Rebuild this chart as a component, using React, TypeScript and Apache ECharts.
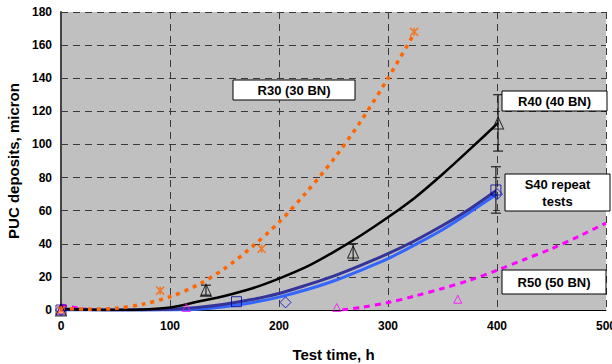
import React, { useEffect, useRef } from "react";
import * as echarts from "echarts";

// ---- Data ----
// Measured points
const r30Time = [0, 91, 184, 324];
const r30Dep = [0, 11.7, 37, 168];

const r40Time = [0, 133, 268, 401];
const r40Dep = [0, 12, 35, 113];
const r40Err = [0, 3, 5, 17];

const s40aTime = [0, 161, 399];
const s40aDep = [0, 5, 72.5];
const s40aErr = [0, 0, 14];

const s40bTime = [0, 206, 400];
const s40bDep = [0, 4.6, 70];

const r50Time = [0, 115, 253, 364];
const r50Dep = [0, 1.5, 1.5, 6.5];

// Trend lines
const r30TrendX = [0, 25, 50, 75, 100, 125, 150, 175, 200, 225, 250, 275, 300, 324];
const r30TrendY = [1, 0.5, 1, 3.5, 8, 15, 25, 38, 53, 71, 91, 114, 140, 167];

const r40TrendX = [0, 25, 50, 75, 100, 125, 150, 175, 200, 225, 250, 275, 300, 325, 350, 375, 401];
const r40TrendY = [0.6, 0.2, 0, 0.3, 1.5, 5, 8.5, 13, 19, 26, 35, 45, 56, 68, 82, 97, 113];

const s40aTrendX = [0, 25, 50, 75, 100, 125, 150, 175, 200, 225, 250, 275, 300, 325, 350, 375, 399];
const s40aTrendY = [0.5, 0.3, 0, 0, 0.4, 1.5, 3.5, 6.3, 10, 15, 20.5, 27, 34, 42, 51, 61, 72];

const s40bTrendX = [0, 25, 50, 75, 100, 125, 150, 175, 200, 225, 250, 275, 300, 325, 350, 375, 400];
const s40bTrendY = [0, 0, 0, 0, 0, 0.5, 2, 4.4, 7.8, 12.2, 17.5, 24, 31, 39.5, 48.5, 59, 70];

const r50TrendAX = [0, 10, 20, 30];
const r50TrendAY = [3, 1.8, 0.6, 0];
const r50TrendBX = [258, 275, 300, 325, 350, 375, 400, 425, 450, 475, 500];
const r50TrendBY = [0, 1.5, 4.5, 8.5, 13, 18, 24, 30.5, 37, 44.5, 52.5];

const xTickMin = 0, xTickMax = 500, xTickStep = 100;
const yTickMin = 0, yTickMax = 180, yTickStep = 20;

const yTitle = "PUC deposits, micron";
const xTitle = "Test time, h";

const labelR30 = "R30 (30 BN)";
const labelR40 = "R40 (40 BN)";
const labelS40 = "S40 repeat\ntests";
const labelR50 = "R50 (50 BN)";

const FONT = 'Arial, "Liberation Sans", sans-serif';

const zip = (xs: number[], ys: number[]) => xs.map((x, i) => [x, ys[i]]);

export default function App() {
  const ref = useRef<HTMLDivElement>(null);

  useEffect(() => {
    document.body.style.margin = "0";
    if (!ref.current) return;
    const chart = echarts.init(ref.current, undefined, { renderer: "svg" });

    const errData = [
      ...r40Time.map((t, i) => [t, r40Dep[i] - r40Err[i], r40Dep[i] + r40Err[i]]).filter((d, i) => r40Err[i] > 0),
      ...s40aTime.map((t, i) => [t, s40aDep[i] - s40aErr[i], s40aDep[i] + s40aErr[i]]).filter((d, i) => s40aErr[i] > 0),
    ];

    const trend = (name: string, data: number[][], color: string, width: number, type: any, z = 2) => ({
      type: "line",
      name,
      data,
      showSymbol: false,
      symbol: "none",
      smooth: 0.3,
      lineStyle: { color, width, type, cap: "butt" },
      z,
      silent: true,
    });

    const marks = (data: number[][], symbol: string, size: any, color: string, bw = 1) => ({
      type: "scatter",
      data,
      symbol,
      symbolSize: size,
      itemStyle: { color: "transparent", borderColor: color, borderWidth: bw },
      z: 5,
      silent: true,
    });

    const axisLabelStyle = { color: "#000", fontFamily: FONT, fontWeight: "bold" as const, fontSize: 12 };
    const split = { show: true, lineStyle: { color: "#3a3a3a", type: [7, 5] as any, width: 1 } };

    chart.setOption({
      animation: false,
      grid: {
        left: 61, right: 6, top: 12, bottom: 54,
        containLabel: false,
        outerBoundsMode: "none",
        show: true, backgroundColor: "#C0C0C0", borderWidth: 0,
      },
      xAxis: {
        type: "value",
        min: xTickMin,
        max: xTickMax,
        interval: xTickStep,
        axisLine: { show: true, onZero: false, lineStyle: { color: "#000", width: 1 } },
        axisTick: { show: false },
        axisLabel: { ...axisLabelStyle, margin: 10 },
        splitLine: split,
        name: xTitle,
        nameLocation: "middle",
        nameGap: 37,
        nameTextStyle: { color: "#000", fontFamily: FONT, fontWeight: "bold", fontSize: 15 },
      },
      yAxis: {
        type: "value",
        min: yTickMin,
        max: yTickMax,
        interval: yTickStep,
        axisLine: { show: true, lineStyle: { color: "#444", width: 2 } },
        axisTick: { show: false },
        axisLabel: { ...axisLabelStyle, margin: 9 },
        splitLine: split,
        name: yTitle,
        nameLocation: "middle",
        nameGap: 36,
        nameTextStyle: { color: "#000", fontFamily: FONT, fontWeight: "bold", fontSize: 15 },
      },
      series: [
        trend("R50 trend a", zip(r50TrendAX, r50TrendAY), "#FF00FF", 3, [6, 5]),
        trend("R50 trend b", zip(r50TrendBX, r50TrendBY), "#FF00FF", 3, [6, 5]),
        trend("S40b trend", zip(s40bTrendX, s40bTrendY), "#3366FF", 3, "solid"),
        trend("S40a trend", zip(s40aTrendX, s40aTrendY), "#333399", 3, "solid"),
        trend("R40 trend", zip(r40TrendX, r40TrendY), "#000000", 2.5, "solid"),
        trend("R30 trend", zip(r30TrendX, r30TrendY), "#FF6600", 3.5, [4, 5], 3),
        {
          type: "custom",
          data: errData,
          encode: { x: 0, y: [1, 2] },
          z: 4,
          silent: true,
          renderItem: (params: any, api: any) => {
            const x = api.value(0);
            const lo = api.coord([x, api.value(1)]);
            const hi = api.coord([x, api.value(2)]);
            const w = 5;
            const st = { stroke: "#000", lineWidth: 1 };
            return {
              type: "group",
              children: [
                { type: "line", shape: { x1: lo[0], y1: lo[1], x2: hi[0], y2: hi[1] }, style: st },
                { type: "line", shape: { x1: lo[0] - w, y1: lo[1], x2: lo[0] + w, y2: lo[1] }, style: st },
                { type: "line", shape: { x1: hi[0] - w, y1: hi[1], x2: hi[0] + w, y2: hi[1] }, style: st },
              ],
            };
          },
        },
        marks(zip(r50Time, r50Dep), "triangle", [8, 8], "#FF00FF"),
        marks(zip(s40bTime, s40bDep), "diamond", [11, 11], "#0000CC"),
        marks(zip(s40aTime, s40aDep), "rect", [10, 10], "#000099"),
        marks(zip(r40Time, r40Dep), "triangle", [11, 12], "#000000"),
        marks(zip(r30Time, r30Dep), "path://M0,0L10,10M10,0L0,10M5,0L5,10", [8, 8], "#FF6600", 1.5),
      ],
      graphic: [
        box(233, 80, 122, 20, labelR30),
        box(502, 91, 105, 20, labelR40),
        box(505, 174, 105, 37, labelS40),
        box(502, 270, 104, 24, labelR50),
      ],
    });

    return () => chart.dispose();
  }, []);

  return <div ref={ref} style={{ width: 612, height: 364 }} />;
}

function box(x: number, y: number, w: number, h: number, text: string) {
  return {
    type: "group",
    x,
    y,
    z: 100,
    children: [
      { type: "rect", z: 100, shape: { x: 0, y: 0, width: w, height: h }, style: { fill: "#fff", stroke: "#000", lineWidth: 1 } },
      {
        type: "text",
        z: 101,
        x: w / 2,
        y: h / 2,
        style: {
          text,
          fill: "#000",
          font: `bold 13px ${FONT}`,
          align: "center",
          verticalAlign: "middle",
          lineHeight: 17,
        },
      },
    ],
  };
}
